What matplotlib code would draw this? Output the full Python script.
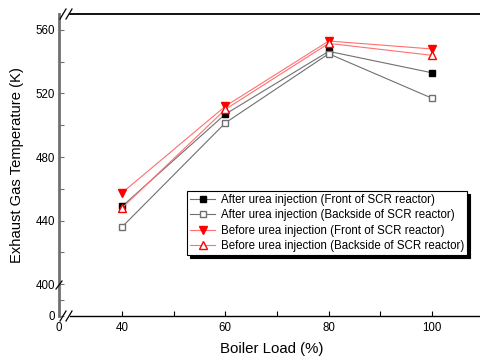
import numpy as np
import matplotlib
matplotlib.use("Agg")
import matplotlib.pyplot as plt
from matplotlib.ticker import FixedLocator

plt.rcParams['font.family'] = ['Liberation Sans', 'DejaVu Sans']

loads = [40, 60, 80, 100]
after_front = [449, 507, 546.5, 533]
after_back = [436, 501.5, 545, 517]
before_front = [457.5, 512, 553, 548]
before_back = [448, 510, 551.5, 544]
labels = ["After urea injection (Front of SCR reactor)",
          "After urea injection (Backside of SCR reactor)",
          "Before urea injection (Front of SCR reactor)",
          "Before urea injection (Backside of SCR reactor)"]

W, H = 481, 362
fig = plt.figure(figsize=(W/100, H/100), dpi=100)
ax = fig.add_axes([59/W, 1-316/H, 424.7/W, 302/H])

def xf(x):
    x = np.asarray(x, float)
    return np.where(x < 30, x*2.2/30, x-27.8)
def xi(u):
    u = np.asarray(u, float)
    return np.where(u < 2.2, u*30/2.2, u+27.8)
def yf(y):
    y = np.asarray(y, float)
    return np.where(y < 400, y*20/400, y-380)
def yi(u):
    u = np.asarray(u, float)
    return np.where(u < 20, u*400/20, u+380)

ax.set_xscale('function', functions=(xf, xi))
ax.set_yscale('function', functions=(yf, yi))
ax.set_xlim(0, 110)
ax.set_ylim(0, 570)

gray = '#707070'
pink = '#ff7070'
ax.plot(loads, after_front, '-', color=gray, lw=0.8, marker='s', ms=4.8,
        mfc='black', mec='black', label=labels[0])
ax.plot(loads, after_back, '-', color=gray, lw=0.8, marker='s', ms=4.8,
        mfc='white', mec=gray, label=labels[1])
ax.plot(loads, before_front, '-', color=pink, lw=0.8, marker='v', ms=6,
        mfc='red', mec='red', label=labels[2])
ax.plot(loads, before_back, '-', color=pink, lw=0.8, marker='^', ms=6,
        mfc='white', mec='red', label=labels[3])

ax.xaxis.set_major_locator(FixedLocator([0, 40, 60, 80, 100]))
ax.xaxis.set_minor_locator(FixedLocator([50, 70, 90]))
ax.yaxis.set_major_locator(FixedLocator([0, 400, 440, 480, 520, 560]))
ax.yaxis.set_minor_locator(FixedLocator([200, 420, 460, 500, 540]))
ax.tick_params(which='both', direction='in', length=3.5, width=0.8, labelsize=8.3,
               top=False, right=False)
ax.tick_params(axis='y', which='both', color=gray, pad=3)
ax.tick_params(axis='x', which='both', pad=4)

ax.spines['left'].set_color(gray)
ax.spines['left'].set_linewidth(2)
ax.spines['bottom'].set_linewidth(1)
ax.spines['top'].set_linewidth(1.3)
ax.spines['top'].set_bounds(30, 110)
ax.spines['bottom'].set_bounds(30, 110)
ax.spines['right'].set_visible(False)

ax.set_xlabel('Boiler Load (%)', fontsize=10.8, labelpad=6)
ax.set_ylabel('Exhaust Gas Temperature (K)', fontsize=10.6, labelpad=8)

# break marks
def slash(xp, yp, dx=3, dy=5, color='black', lw=0.9):
    fig.add_artist(plt.Line2D([(xp-dx)/W, (xp+dx)/W], [1-(yp+dy)/H, 1-(yp-dy)/H],
                              color=color, lw=lw, transform=fig.transFigure))
for yp in (14, 316):
    slash(63, yp)
    slash(69, yp)
slash(59, 285, dx=3, dy=4, color='black')

leg = ax.legend(loc='upper left', bbox_to_anchor=(187/W, 1-191/H), bbox_transform=fig.transFigure,
                fontsize=8.3, frameon=True, fancybox=False, shadow={'color': 'black', 'alpha': 1},
                handlelength=2.2, handletextpad=0.5, borderpad=0.25, labelspacing=0.3,
                borderaxespad=0, markerscale=0.9)
leg.get_frame().set_edgecolor('black')
leg.get_frame().set_linewidth(0.8)

fig.savefig('out.png', dpi=100)
